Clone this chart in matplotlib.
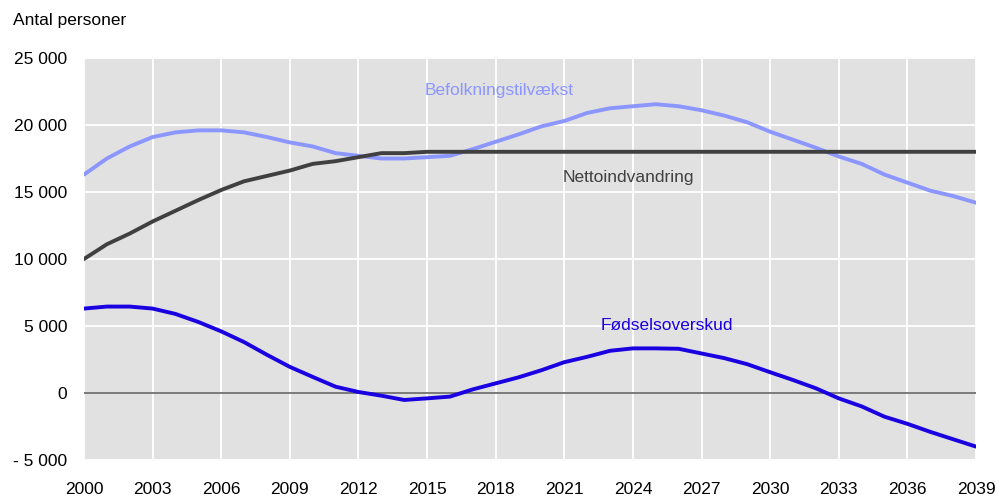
import matplotlib.pyplot as plt
import numpy as np

plt.rcParams['font.family'] = ['Liberation Sans', 'DejaVu Sans']

# --- DATA ---
years = list(range(2000, 2040))

befolkning = [16300, 17500, 18400, 19100, 19450, 19600, 19600, 19450, 19100, 18700,
              18400, 17900, 17700, 17500, 17500, 17600, 17700, 18200, 18750, 19300,
              19900, 20300, 20900, 21250, 21400, 21550, 21400, 21100, 20700, 20200,
              19500, 18900, 18300, 17650, 17100, 16300, 15700, 15100, 14700, 14200]

netto = [10000, 11100, 11900, 12800, 13600, 14400, 15150, 15800, 16200, 16600,
         17100, 17300, 17600, 17900, 17900] + [18000] * 25

foedsel = [6300, 6450, 6450, 6300, 5900, 5300, 4600, 3800, 2850, 1950,
           1200, 470, 75, -200, -520, -400, -270, 270, 720, 1170,
           1700, 2300, 2700, 3150, 3330, 3330, 3300, 2950, 2600, 2150,
           1550, 970, 350, -400, -1000, -1770, -2300, -2900, -3450, -4000]

y_ticks = [-5000, 0, 5000, 10000, 15000, 20000, 25000]
y_labels = ['- 5 000', '0', '5 000', '10 000', '15 000', '20 000', '25 000']
x_ticks = list(range(2000, 2040, 3))

c_bef = '#8C96FF'
c_net = '#404040'
c_foe = '#1A00E0'

# --- PLOT ---
fig = plt.figure(figsize=(9.99, 4.98), dpi=100)
ax = fig.add_axes([84 / 999, 1 - 460 / 498, 892 / 999, 402 / 498])
ax.set_facecolor('#E1E1E1')

ax.plot(years, befolkning, color=c_bef, lw=2.8, solid_capstyle='round', zorder=3)
ax.plot(years, netto, color=c_net, lw=2.8, solid_capstyle='round', zorder=3)
ax.plot(years, foedsel, color=c_foe, lw=2.8, solid_capstyle='round', zorder=3)
ax.axhline(0, color='#707070', lw=1.3, zorder=2)

ax.set_xlim(2000, 2039)
ax.set_ylim(-5000, 25000)
ax.set_xticks(x_ticks)
ax.set_yticks(y_ticks)
ax.set_yticklabels(y_labels)
ax.grid(True, color='white', lw=1.3, zorder=1)
ax.set_axisbelow(True)
for s in ax.spines.values():
    s.set_visible(False)
ax.tick_params(length=0, labelsize=12.5, colors='black')
ax.tick_params(axis='y', pad=12)
ax.tick_params(axis='x', pad=16)

fig.text(13 / 999, 1 - 20 / 498, 'Antal personer', fontsize=12.5, va='center', ha='left')

ax.text(2018.15, 22600, 'Befolkningstilvækst', color=c_bef, fontsize=12.5, ha='center', va='center')
ax.text(2023.8, 16050, 'Nettoindvandring', color=c_net, fontsize=12.5, ha='center', va='center')
ax.text(2025.5, 5070, 'Fødselsoverskud', color=c_foe, fontsize=12.5, ha='center', va='center')

fig.savefig('out.png', dpi=100)
